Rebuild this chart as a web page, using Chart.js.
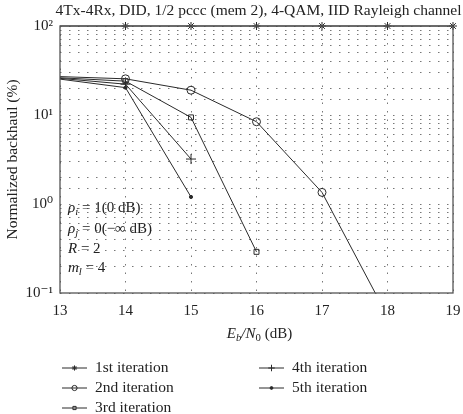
<!DOCTYPE HTML>
<html>

<head>
  <meta charset="utf-8" />
  <script src="https://cdn.jsdelivr.net/npm/chart.js@4"></script>
  <style>
    body {
      margin: 0;
      background: #fff;
    }

    canvas {
      display: block;
    }
  </style>
</head>

<body>
  <canvas id="chart-backhaul" width="463" height="414"></canvas>
</body>
<script>
  // Data (Eb/N0 in dB, backhaul in %)
  var ebno = [13, 14, 15, 16, 17, 18, 19];
  var iter1 = [100, 100, 100, 100, 100, 100, 100];
  var iter2 = [27, 25.5, 19, 8.4, 1.35, 0.055];
  var iter3 = [26.2, 24, 9.4, 0.29];
  var iter4 = [25.8, 22.2, 3.2];
  var iter5 = [25.3, 20.3, 1.2];
  var yTicks = [0.1, 1, 10, 100];
  var yTickText = {0.1: '10⁻¹', 1: '10⁰', 10: '10¹', 100: '10²'};

  var FONT = '"Liberation Serif", "DejaVu Serif", serif';
  var INK = '#2a2a2a';

  function pts(vals) {
    return vals.map(function (v, i) { return { x: ebno[i], y: v }; });
  }

  function series(label, vals, style, radius, fill) {
    // no marker at the 13 dB edge, as in the original
    var radii = vals.map(function (v, i) { return i === 0 ? 0 : radius; });
    return {
      label: label,
      data: pts(vals),
      borderColor: INK,
      borderWidth: 1,
      pointStyle: style,
      pointRadius: radii,
      legendRadius: radius,
      pointBorderColor: INK,
      pointBorderWidth: 1,
      pointBackgroundColor: fill ? INK : 'rgba(0,0,0,0)',
      tension: 0
    };
  }

  var s1 = series('1st iteration', iter1, 'star', 4, false);
  s1.clip = false;
  var datasets = [
    s1,
    series('2nd iteration', iter2, 'circle', 4, false),
    series('3rd iteration', iter3, 'rect', 3.5, false),
    series('4th iteration', iter4, 'cross', 5, false),
    series('5th iteration', iter5, 'circle', 1.6, true)
  ];

  // draw text pieces, parts: [text, italic, subscript]
  function richText(ctx, x, y, parts, size) {
    parts.forEach(function (p) {
      var fs = p[2] ? size * 0.72 : size;
      ctx.font = (p[1] ? 'italic ' : '') + fs + 'px ' + FONT;
      ctx.fillText(p[0], x, y + (p[2] ? size * 0.25 : 0));
      x += ctx.measureText(p[0]).width;
    });
    return x;
  }

  function measureRich(ctx, parts, size) {
    var w = 0;
    parts.forEach(function (p) {
      var fs = p[2] ? size * 0.72 : size;
      ctx.font = (p[1] ? 'italic ' : '') + fs + 'px ' + FONT;
      w += ctx.measureText(p[0]).width;
    });
    return w;
  }

  var extras = {
    id: 'extras',
    afterDraw: function (chart) {
      var ctx = chart.ctx;
      var a = chart.chartArea;
      ctx.save();
      // frame
      ctx.strokeStyle = '#555';
      ctx.lineWidth = 1.3;
      ctx.strokeRect(a.left, a.top, a.right - a.left, a.bottom - a.top);

      ctx.fillStyle = '#222';
      ctx.textBaseline = 'middle';
      ctx.textAlign = 'left';

      // title
      ctx.font = '15.5px ' + FONT;
      ctx.textAlign = 'center';
      ctx.fillText('4Tx-4Rx, DID, 1/2 pccc (mem 2), 4-QAM, IID Rayleigh channel', (a.left + a.right) / 2 + 2, 11);
      ctx.textAlign = 'left';

      // x axis title
      var xt = [['E', true], ['b', true, true], ['/', true], ['N', true], ['0', false, true], [' (dB)', false]];
      var w = measureRich(ctx, xt, 15);
      richText(ctx, (a.left + a.right) / 2 - w / 2 + 3, 334, xt, 15);

      // annotation inside the plot
      var sz = 15;
      var x0 = a.left + 8;
      richText(ctx, x0, 208, [['ρ', true], ['i', true, true], [' = 1(0 dB)', false]], sz);
      richText(ctx, x0, 229, [['ρ', true], ['j', true, true], [' = 0(−∞ dB)', false]], sz);
      richText(ctx, x0, 249, [['R', true], [' = 2', false]], sz);
      richText(ctx, x0, 268, [['m', true], ['l', true, true], [' = 4', false]], sz);

      // legend, two columns like the original
      var slots = [
        [0, 62, 368], [1, 62, 388], [2, 62, 408],
        [3, 259, 368], [4, 259, 388]
      ];
      slots.forEach(function (s) {
        var ds = chart.data.datasets[s[0]];
        var lx = s[1], ly = s[2];
        ctx.strokeStyle = INK;
        ctx.lineWidth = 1;
        ctx.beginPath();
        ctx.moveTo(lx, ly);
        ctx.lineTo(lx + 25, ly);
        ctx.stroke();
        var r = ds.legendRadius < 2 ? 1.4 : ds.legendRadius * 0.65;
        ctx.fillStyle = ds.pointBackgroundColor;
        Chart.helpers.drawPoint(ctx, {
          pointStyle: ds.pointStyle,
          radius: r,
          rotation: 0,
          borderWidth: 1
        }, lx + 12.5, ly);
        ctx.fillStyle = '#222';
        ctx.font = '15.5px ' + FONT;
        ctx.fillText(ds.label, lx + 33, ly);
      });
      ctx.restore();
    }
  };

  function noPad(s) {
    s.paddingLeft = 0;
    s.paddingRight = 0;
    s.paddingTop = 0;
    s.paddingBottom = 0;
  }

  var chart = new Chart(document.getElementById('chart-backhaul'), {
    type: 'line',
    data: { datasets: datasets },
    options: {
      responsive: false,
      animation: false,
      layout: { padding: { top: 26, right: 10, bottom: 0, left: 0 } },
      scales: {
        x: {
          type: 'linear',
          min: 13,
          max: 19,
          afterFit: function (s) { s.height = 121; noPad(s); },
          ticks: {
            stepSize: 1,
            color: '#222',
            padding: 9,
            font: { family: FONT, size: 15 },
            callback: function (v) { return v; }
          },
          grid: {
            color: '#777',
            lineWidth: 1,
            tickLength: 0
          },
          border: { display: false, dash: [1.5, 7] }
        },
        y: {
          type: 'logarithmic',
          min: 0.1,
          max: 100,
          afterFit: function (s) { s.width = 60; noPad(s); },
          ticks: {
            autoSkip: false,
            color: '#222',
            padding: 7,
            font: { family: FONT, size: 15 },
            callback: function (v) {
              return yTicks.indexOf(v) >= 0 ? yTickText[v] : '';
            }
          },
          grid: {
            color: '#777',
            lineWidth: 1,
            tickLength: 0
          },
          border: { display: false, dash: [1.5, 7.5] },
          title: {
            display: true,
            text: 'Normalized backhaul (%)',
            color: '#222',
            padding: { top: 4, bottom: 0 },
            font: { family: FONT, size: 15.5 }
          }
        }
      },
      plugins: {
        legend: { display: false },
        tooltip: { enabled: false }
      }
    },
    plugins: [extras]
  });
</script>

</html>
